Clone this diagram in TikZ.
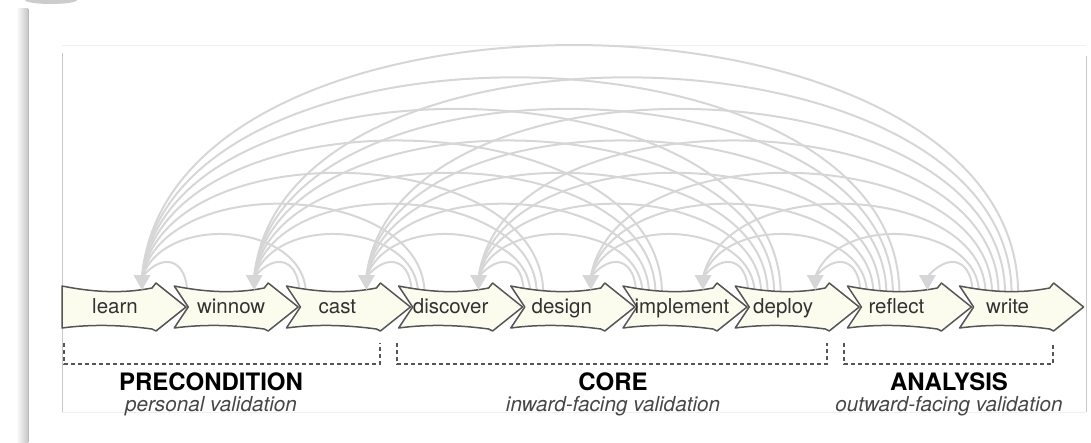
\documentclass[tikz,border=0pt]{standalone}
\usepackage{fontspec}
\setmainfont{TeX Gyre Heros}
\usetikzlibrary{calc}
\definecolor{arcgray}{RGB}{214,214,214}
\definecolor{boxline}{RGB}{85,85,85}
\definecolor{boxfill}{RGB}{252,252,238}
\definecolor{txt}{RGB}{50,50,50}
\definecolor{subtxt}{RGB}{70,70,70}
\definecolor{framelight}{RGB}{240,240,240}
\definecolor{framedark}{RGB}{200,200,200}
\begin{document}
\begin{tikzpicture}[x=1pt,y=1pt,
  arc/.style={draw=arcgray, line width=2pt},
  stagebox/.style={draw=boxline, fill=boxfill, line width=1.5pt, line join=round},
  stagelabel/.style={font=\fontsize{20.5}{24}\selectfont, text=txt, inner sep=0pt, anchor=base},
  arrowtip/.style={fill=arcgray, draw=none},
  bracket/.style={draw=boxline, line width=1.2pt, dash pattern=on 4pt off 3pt},
  grouptitle/.style={font=\bfseries\fontsize{24}{28}\selectfont, text=black, anchor=base, inner sep=0pt},
  groupsub/.style={font=\itshape\fontsize{20.7}{24}\selectfont, text=subtxt, anchor=base, inner sep=0pt}]
\useasboundingbox (0,0) rectangle (1091,442);
% outer frame with shadow
\shade[left color=white, right color=black!22] (16,0) rectangle (28,433);
\draw[draw=black!28, line width=1pt] (28,0) -- (28,433);
\fill[black!20] (51,442) ellipse (26 and 4);
% inner frame
\draw[framelight, line width=1pt] (62,396) -- (1086,396);
\draw[framelight, line width=1pt] (62,30) -- (1086,30);
\draw[framedark, line width=1pt] (62,389) -- (62,30);
\draw[framedark, line width=1pt] (1086,386) -- (1086,30);
% target coordinates
\foreach \i in {0,...,7} {
  \pgfmathsetmacro\tx{62+112.2*\i+80}
  \coordinate (in\i) at (\tx,165);
}
% arcs
\foreach \j in {1,...,8} {
  \foreach \k in {1,...,\j} {
    \pgfmathsetmacro\sx{62+112.2*\j+13+6.5*(\k-1)}
    \pgfmathtruncatemacro\i{\j-\k}
    \pgfmathsetmacro\D{{34,70,110,151,194,236,278,321}[\k-1]}
    \pgfmathsetmacro\th{90-40/\k}
    \coordinate (o\j-\k) at (\sx,148);
    \draw[arc] (o\j-\k) to[out=90,in=\th,distance=\D pt] (in\i);
  }
}
% stage arrows
\foreach \n/\off [count=\c from 0] in {learn/53,winnow/57,cast/51,discover/52,design/51,implement/59,deploy/48,reflect/49,write/48} {
  \pgfmathsetmacro\L{62+112.2*\c}
  \pgfmathsetmacro\notch{\c==0 ? 0 : 14}
  \draw[stagebox] (\L,156) .. controls (\L+30,150) and (\L+60,148) .. (\L+90,154) -- (\L+94,159) -- (\L+124,135) -- (\L+94,111) -- (\L+90,113) .. controls (\L+60,117) and (\L+30,118) .. (\L,114) -- (\L+\notch,135) -- cycle;
  \node[stagelabel] (\n) at (\L+\off,129) {\n};
}
% arrowheads
\foreach \i in {0,...,7} {
  \fill[arrowtip] ($(in\i)+(-8.5,2)$) -- ($(in\i)+(8.5,2)$) -- ($(in\i)+(0,-13)$) -- cycle;
}
% brackets
\draw[bracket] (64,99) -- (64,78) -- (380,78) -- (380,99);
\draw[bracket] (397,99) -- (397,78) -- (827,78) -- (827,99);
\draw[bracket] (844,99) -- (844,78) -- (1053,78) -- (1053,99);
% group labels
\node[grouptitle] (pre) at (211,51.5) {PRECONDITION};
\node[groupsub] (presub) at (211,30.5) {personal validation};
\node[grouptitle] (core) at (613,51.5) {CORE};
\node[groupsub] (coresub) at (613,30.5) {inward-facing validation};
\node[grouptitle] (ana) at (949,51.5) {ANALYSIS};
\node[groupsub] (anasub) at (949,30.5) {outward-facing validation};
\end{tikzpicture}
\end{document}
